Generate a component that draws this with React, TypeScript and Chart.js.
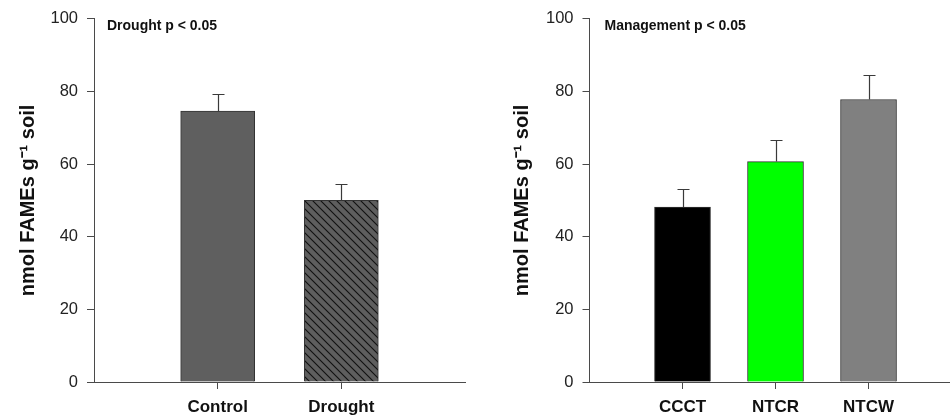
import React, { useEffect, useRef } from 'react';
import { Chart, registerables } from 'chart.js';

Chart.register(...registerables);

// ---- data ----
const droughtCategories = ['Control', 'Drought'];
const droughtMeans = [74.6, 50.0];
const droughtErrors = [4.7, 4.6];
const droughtNote = 'Drought p < 0.05';

const mgmtCategories = ['CCCT', 'NTCR', 'NTCW'];
const mgmtMeans = [48.2, 60.7, 77.8];
const mgmtErrors = [4.9, 5.9, 6.8];
const mgmtNote = 'Management p < 0.05';

const yTickValues = [0, 20, 40, 60, 80, 100];
const yTitle = 'nmol FAMEs g\u207B\u00B9 soil';

const FONT = "'Liberation Sans', Arial, Helvetica, sans-serif";
const AXIS = '#4a4a4a';

function makeHatch(): CanvasPattern | string {
  const c = document.createElement('canvas');
  c.width = 8;
  c.height = 8;
  const g = c.getContext('2d');
  if (!g) return '#5c5c5c';
  g.fillStyle = '#5e5e5e';
  g.fillRect(0, 0, 8, 8);
  g.strokeStyle = '#111';
  g.lineWidth = 1.1;
  g.beginPath();
  g.moveTo(-1, -1);
  g.lineTo(9, 9);
  g.moveTo(-1, 7);
  g.lineTo(1, 9);
  g.moveTo(7, -1);
  g.lineTo(9, 1);
  g.stroke();
  const p = g.createPattern(c, 'repeat');
  return p || '#5c5c5c';
}

const errorBarPlugin = {
  id: 'errorBars',
  afterDatasetsDraw(chart: any, _args: any, opts: any) {
    const { ctx } = chart;
    const meta = chart.getDatasetMeta(0);
    const y = chart.scales.y;
    const means: number[] = opts.means || [];
    const errs: number[] = opts.errors || [];
    ctx.save();
    ctx.strokeStyle = '#3a3a3a';
    ctx.lineWidth = 1.2;
    meta.data.forEach((bar: any, i: number) => {
      const x = Math.round(bar.x) + 0.5;
      const yTop = y.getPixelForValue(means[i]);
      const yEnd = Math.round(y.getPixelForValue(means[i] + errs[i])) + 0.5;
      const cap = opts.cap || 6;
      ctx.beginPath();
      ctx.moveTo(x, yTop);
      ctx.lineTo(x, yEnd);
      ctx.moveTo(x - cap, yEnd);
      ctx.lineTo(x + cap, yEnd);
      ctx.stroke();
    });
    ctx.restore();
  },
};

const notePlugin = {
  id: 'note',
  afterDraw(chart: any, _args: any, opts: any) {
    const { ctx, chartArea } = chart;
    ctx.save();
    ctx.font = `bold 14px ${FONT}`;
    ctx.fillStyle = '#111';
    ctx.textBaseline = 'middle';
    ctx.textAlign = 'left';
    ctx.fillText(opts.text || '', chartArea.left + (opts.dx || 13), 26);
    ctx.restore();
  },
};

interface PanelProps {
  categories: string[];
  means: number[];
  errors: number[];
  colors: (string | CanvasPattern)[];
  note: string;
  left: number;
  axisWidth: number;
  xMax: number;
  padRight: number;
  barThickness: number;
  titlePad: number;
  noteDx: number;
}

function Panel(props: PanelProps) {
  const ref = useRef<HTMLCanvasElement | null>(null);
  useEffect(() => {
    if (!ref.current) return;
    const { categories, means, errors, colors } = props;
    const chart = new Chart(ref.current, {
      type: 'bar',
      data: {
        datasets: [
          {
            data: means.map((v, i) => ({ x: i, y: v })),
            backgroundColor: colors as any,
            borderColor: '#333',
            borderWidth: 1,
            barThickness: props.barThickness,
          },
        ],
      },
      options: {
        responsive: false,
        animation: false,
        events: [],
        layout: { padding: { top: 17, right: props.padRight, bottom: 0, left: 0 } },
        plugins: {
          legend: { display: false },
          tooltip: { enabled: false },
          errorBars: { means, errors, cap: 6 },
          note: { text: props.note, dx: props.noteDx },
        } as any,
        scales: {
          x: {
            type: 'linear',
            offset: false,
            min: -1,
            max: props.xMax,
            afterBuildTicks: (axis: any) => {
              axis.ticks = categories.map((_, i) => ({ value: i }));
            },
            afterFit: (axis: any) => {
              axis.height = 34;
            },
            grid: {
              display: true,
              offset: false,
              drawOnChartArea: false,
              drawTicks: true,
              tickLength: 7,
              color: AXIS,
              lineWidth: 1,
            },
            border: { display: true, color: AXIS, width: 1 },
            ticks: {
              autoSkip: false,
              maxRotation: 0,
              padding: 8,
              color: '#111',
              font: { family: FONT, size: 17, weight: 'bold' },
              callback: (v: any) => categories[Math.round(Number(v))] ?? '',
            },
          },
          y: {
            type: 'linear',
            min: 0,
            max: 100,
            afterBuildTicks: (axis: any) => {
              axis.ticks = yTickValues.map((v) => ({ value: v }));
            },
            afterFit: (axis: any) => {
              axis.width = props.axisWidth;
            },
            grid: {
              display: true,
              drawOnChartArea: false,
              drawTicks: true,
              tickLength: 7,
              color: AXIS,
              lineWidth: 1,
            },
            border: { display: true, color: AXIS, width: 1 },
            ticks: {
              padding: 9,
              color: '#222',
              font: { family: FONT, size: 16.5 },
            },
            title: {
              display: true,
              text: yTitle,
              color: '#111',
              font: { family: FONT, size: 20, weight: 'bold' },
              padding: { top: props.titlePad, bottom: 0 },
            },
          },
        },
      } as any,
      plugins: [errorBarPlugin, notePlugin],
    });
    return () => chart.destroy();
  }, []);
  return (
    <canvas
      ref={ref}
      width={475}
      height={416}
      style={{ position: 'absolute', left: props.left, top: 0, width: 475, height: 416, display: 'block' }}
    />
  );
}

export default function App() {
  const hatch = makeHatch();
  return (
    <div style={{ position: 'absolute', left: 0, top: 0, width: 950, height: 416, background: '#fff', overflow: 'hidden' }}>
      <Panel
        categories={droughtCategories}
        means={droughtMeans}
        errors={droughtErrors}
        colors={['#5f5f5f', hatch]}
        note={droughtNote}
        left={0}
        axisWidth={94}
        xMax={2}
        padRight={10}
        barThickness={74}
        titlePad={16}
        noteDx={13}
      />
      <Panel
        categories={mgmtCategories}
        means={mgmtMeans}
        errors={mgmtErrors}
        colors={['#000000', '#00ff00', '#808080']}
        note={mgmtNote}
        left={475}
        axisWidth={114.5}
        xMax={2.876}
        padRight={0}
        barThickness={56}
        titlePad={35}
        noteDx={15}
      />
    </div>
  );
}
